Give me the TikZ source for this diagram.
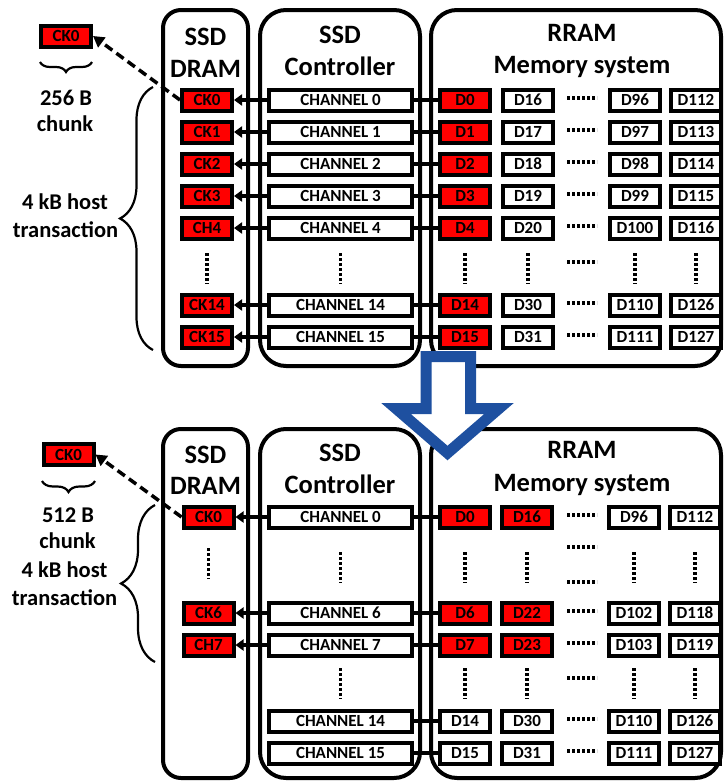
\documentclass[tikz,border=0pt]{standalone}
\usepackage{fontspec}
\setmainfont{Carlito}
\usetikzlibrary{arrows.meta,decorations.pathreplacing}
\definecolor{boxred}{RGB}{255,0,0}
\definecolor{arrowblue}{RGB}{30,80,160}
\begin{document}
\begin{tikzpicture}[x=1pt,y=-1pt,
  panel/.style={draw,line width=4pt,inner sep=0pt,outer sep=0pt},
  cell/.style={draw,line width=4pt,minimum width=50pt,minimum height=21pt,inner sep=0pt,font=\fontsize{17}{17}\selectfont\bfseries},
  redcell/.style={cell,fill=boxred},
  wcell/.style={cell,fill=white},
  chcell/.style={cell,fill=white,minimum width=143pt},
  title/.style={font=\fontsize{26.5}{26.5}\selectfont\bfseries,anchor=base,inner sep=0pt},
  side/.style={font=\fontsize{22.5}{22.5}\selectfont\bfseries,anchor=base,inner sep=0pt},
  conn/.style={line width=4.5pt},
  toarrow/.style={conn,-{Triangle[length=8pt,width=11pt]}},
  dasharrow/.style={line width=3.5pt,dash pattern=on 9pt off 5pt,-{Triangle[length=11pt,width=12pt]}},
  vdots/.style={line width=3.2pt,dash pattern=on 2.6pt off 2.4pt},
  bracestyle/.style={line width=2.2pt,decorate,decoration={brace,amplitude=#1}},
]
\useasboundingbox (0,0) rectangle (724,782);

% ================= TOP PANEL =================
\node[panel,rounded corners=18pt,minimum width=85pt,minimum height=356pt] (tdram) at (205.5,188) {};
\node[panel,rounded corners=26pt,minimum width=160pt,minimum height=356pt] (tctrl) at (340,188) {};
\node[panel,rounded corners=26pt,minimum width=290pt,minimum height=356pt] (trram) at (576,188) {};

\node[title] (ttA) at (205.5,45) {SSD};
\node[title] (ttB) at (205.5,77) {DRAM};
\node[title] (ttC) at (340,43) {SSD};
\node[title] (ttD) at (340,75) {Controller};
\node[title] (ttE) at (582,41) {RRAM};
\node[title] (ttF) at (582,73) {Memory system};

\foreach \i/\y/\ck in {0/100/CK0,1/132/CK1,2/164/CK2,3/196/CK3,4/228/CH4,14/305/CK14,15/337/CK15}{
  \pgfmathtruncatemacro\a{\i+16}
  \pgfmathtruncatemacro\b{\i+96}
  \pgfmathtruncatemacro\c{\i+112}
  \node[redcell] (tck\i) at (207,\y) {\ck};
  \node[chcell] (tch\i) at (340.5,\y) {CHANNEL \i};
  \node[redcell] (tda\i) at (465,\y) {D\i};
  \node[wcell] (tdb\i) at (528,\y) {D\a};
  \node[wcell] (tdc\i) at (635,\y) {D\b};
  \node[wcell] (tdd\i) at (696,\y) {D\c};
  \draw[toarrow] (tch\i) -- (tck\i);
  \draw[conn] (tch\i) -- (tda\i);
  \draw[vdots] (567,\y-2) -- (597,\y-2);
}
% dots row
\foreach \x in {207,340.5,465,528,635,696}{
  \draw[vdots] (\x,253) -- (\x,284);
}
\draw[vdots] (567,262) -- (597,262);

% left side labels
\node[redcell] (tsck) at (66,36) {CK0};
\draw[bracestyle=10pt] (92,62) -- (40,62);
\node[side] (tl1) at (66,105) {256 B};
\node[side] (tl2) at (65,131) {chunk};
\node[side] (tl3) at (65,209) {4 kB host};
\node[side] (tl4) at (65.5,237) {transaction};
\draw[bracestyle=33pt] (153,350) -- (153,87);
\draw[dasharrow] (tck0.west) -- (tsck.east);

% ================= BOTTOM PANEL =================
\node[panel,rounded corners=18pt,minimum width=85pt,minimum height=349pt] (bdram) at (205.5,603.5) {};
\node[panel,rounded corners=26pt,minimum width=160pt,minimum height=349pt] (bctrl) at (340,603.5) {};
\node[panel,rounded corners=26pt,minimum width=290pt,minimum height=349pt] (brram) at (576,603.5) {};

\node[title] (btA) at (205.5,463) {SSD};
\node[title] (btB) at (205.5,494) {DRAM};
\node[title] (btC) at (340,461) {SSD};
\node[title] (btD) at (340,493) {Controller};
\node[title] (btE) at (582,458) {RRAM};
\node[title] (btF) at (582,491) {Memory system};

% rows with DRAM chunk
\foreach \i/\y/\ck in {0/517/CK0,6/613/CK6,7/645/CH7}{
  \pgfmathtruncatemacro\a{\i+16}
  \pgfmathtruncatemacro\b{\i+96}
  \pgfmathtruncatemacro\c{\i+112}
  \node[redcell] (bck\i) at (208.5,\y) {\ck};
  \node[chcell] (bch\i) at (340.5,\y) {CHANNEL \i};
  \node[redcell] (bda\i) at (465,\y) {D\i};
  \node[redcell] (bdb\i) at (527,\y) {D\a};
  \node[wcell] (bdc\i) at (634,\y) {D\b};
  \node[wcell] (bdd\i) at (695,\y) {D\c};
  \draw[toarrow] (bch\i) -- (bck\i);
  \draw[conn] (bch\i) -- (bda\i);
  \draw[vdots] (567,\y-2) -- (597,\y-2);
}
% rows without DRAM chunk
\foreach \i/\y in {14/721,15/753}{
  \pgfmathtruncatemacro\a{\i+16}
  \pgfmathtruncatemacro\b{\i+96}
  \pgfmathtruncatemacro\c{\i+112}
  \node[chcell] (bch\i) at (340.5,\y) {CHANNEL \i};
  \node[wcell] (bda\i) at (465,\y) {D\i};
  \node[wcell] (bdb\i) at (527,\y) {D\a};
  \node[wcell] (bdc\i) at (634,\y) {D\b};
  \node[wcell] (bdd\i) at (695,\y) {D\c};
  \draw[conn] (bch\i) -- (bda\i);
  \draw[vdots] (567,\y-2) -- (597,\y-2);
}
% dots rows
\draw[vdots] (208.5,548) -- (208.5,579);
\foreach \x in {340.5,465,527,634,695}{
  \draw[vdots] (\x,552) -- (\x,583);
  \draw[vdots] (\x,668) -- (\x,699);
}
\draw[vdots] (567,547) -- (597,547);
\draw[vdots] (567,582) -- (597,582);
\draw[vdots] (567,678) -- (597,678);

% left side labels
\node[redcell] (bsck) at (68.5,454.5) {CK0};
\draw[bracestyle=11pt] (95,481) -- (42,481);
\node[side] (bl1) at (68,522) {512 B};
\node[side] (bl2) at (67.5,548) {chunk};
\node[side] (bl3) at (64.5,577) {4 kB host};
\node[side] (bl4) at (64.5,605) {transaction};
\draw[bracestyle=34pt] (155,662) -- (155,505);
\draw[dasharrow] (bck0.west) -- (bsck.east);

% ================= BIG ARROW =================
\draw[arrowblue,fill=white,line width=11pt,line join=miter]
  (426,356.5) -- (470.5,356.5) -- (470.5,408.5) -- (499,408.5) -- (447.5,453)
  -- (396,408.5) -- (426,408.5) -- cycle;
\end{tikzpicture}
\end{document}
